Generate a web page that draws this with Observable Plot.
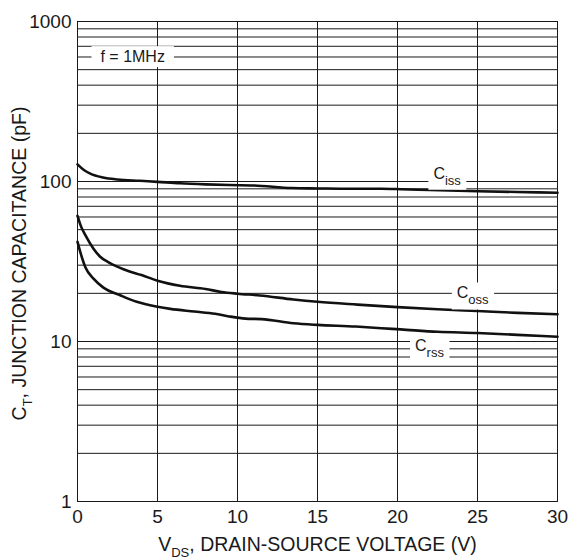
<!DOCTYPE html>
<html><head><meta charset="utf-8">
<script src="https://cdn.jsdelivr.net/npm/d3@7"></script>
<script src="https://cdn.jsdelivr.net/npm/@observablehq/plot@0.6"></script>
<style>
body{margin:0;background:#fff}
#chart svg{display:block}
</style>
</head><body><div id="chart"></div>
<script>
// ---- data (V in volts, C in pF) ----
const cissV = [0, 0.4, 0.8, 1.6, 2.5, 3.9, 5, 6.4, 8, 9.5, 11, 13.4, 15, 17, 19, 20.2, 22, 25, 27.5, 30];
const cissC = [128, 118, 112, 106, 103, 101, 99.5, 97.5, 96, 95, 94.5, 91, 90.5, 90, 90, 89.5, 88.5, 87, 86, 85];

const cossV = [0, 0.2, 0.5, 1, 1.4, 2, 3, 4, 5, 6.4, 8, 9, 10, 11.4, 13.5, 15, 17.5, 20, 22.5, 25, 27.5, 30];
const cossC = [61, 53, 46, 38, 34, 31, 28, 26, 24, 22.3, 21.3, 20.4, 19.9, 19.4, 18.3, 17.7, 17, 16.4, 15.9, 15.5, 15.1, 14.8];

const crssV = [0, 0.2, 0.5, 1, 1.6, 2.7, 3.7, 5, 5.8, 7.3, 8.6, 9.4, 10.5, 11.5, 13.5, 15, 17.4, 19, 20.2, 22.5, 25, 27.5, 30];
const crssC = [42, 35.5, 29, 24.7, 21.8, 19.4, 17.7, 16.5, 16, 15.4, 14.9, 14.4, 13.9, 13.8, 13, 12.7, 12.4, 12.1, 11.9, 11.5, 11.3, 11, 10.7];

const xTicks = [0, 5, 10, 15, 20, 25, 30];
const yTicks = [1, 10, 100, 1000];
const yGrid = [2, 3, 4, 5, 6, 7, 8, 9, 10, 20, 30, 40, 50, 60, 70, 80, 90, 100, 200, 300, 400, 500, 600, 700, 800, 900];

// curve labels: text ("|" separates normal / subscript parts), position in data units
const labelText = ["f = 1MHz", "C|iss", "C|oss", "C|rss"];
const labelV = [3.45, 23.1, 24.7, 22.0];
const labelC = [600, 112, 20, 9.4];

const xTitle = "V|DS|, DRAIN-SOURCE VOLTAGE (V)";
const yTitle = "C|T|, JUNCTION CAPACITANCE (pF)";

// ---- build tables ----
const series = [];
cissV.forEach((v, i) => series.push({name: "Ciss", v, c: cissC[i]}));
cossV.forEach((v, i) => series.push({name: "Coss", v, c: cossC[i]}));
crssV.forEach((v, i) => series.push({name: "Crss", v, c: crssC[i]}));
const labels = labelText.map((t, i) => ({t, v: labelV[i], c: labelC[i]}));

const ink = "#1a1a1a";
const chart = Plot.plot({
  width: 568, height: 559,
  marginLeft: 77, marginRight: 11, marginTop: 21, marginBottom: 58,
  style: {fontFamily: "'Liberation Sans', Arial, sans-serif", fontSize: "19px", color: ink, background: "white"},
  x: {domain: [0, 30], ticks: xTicks, tickSize: 0, tickPadding: 8, label: null},
  y: {type: "log", domain: [1, 1000], ticks: yTicks, tickSize: 0, tickPadding: 6, tickFormat: d => String(d), label: null},
  marks: [
    Plot.ruleY(yGrid, {stroke: ink, strokeWidth: 1}),
    Plot.ruleX(xTicks, {stroke: ink, strokeWidth: 1}),
    Plot.frame({stroke: ink, strokeWidth: 1}),
    Plot.line(series, {x: "v", y: "c", z: "name", stroke: "#111", strokeWidth: 2.6, curve: "monotone-x"}),
    Plot.text(labels, {x: "v", y: "c", text: "t", fontSize: 16, fill: ink, textAnchor: "middle"}),
    Plot.text([xTitle], {frameAnchor: "bottom", dy: 49, text: d => d, fontSize: 19.5, fill: ink, textAnchor: "middle"}),
    Plot.text([yTitle], {frameAnchor: "left", dx: -58, dy: 2, rotate: -90, text: d => d, fontSize: 19.5, fill: ink, textAnchor: "middle"})
  ]
});
document.getElementById("chart").appendChild(chart);

// ---- subscripts and white label boxes ----
const svg = d3.select(chart);
const boxed = new Set(labelText);
svg.selectAll("text").each(function () {
  const s = this.textContent;
  if (!s.includes("|") && !boxed.has(s)) return;
  const el = d3.select(this);
  const fs = parseFloat(el.attr("font-size")) || 18;
  const parts = s.split("|");
  if (parts.length > 1) {
    el.text(null);
    const shift = Math.round(fs * 0.32);
    parts.forEach((p, i) => {
      if (!p) return;
      const ts = el.append("tspan").text(p);
      if (i % 2 === 1) ts.attr("font-size", Math.round(fs * 0.72)).attr("dy", shift);
      else if (i > 0) ts.attr("dy", -shift);
    });
  }
  if (boxed.has(s)) {
    const b = this.getBBox();
    const px = s.startsWith("f") ? 9 : 5, py = 2;
    d3.select(this.parentNode).insert("rect", () => this)
      .attr("x", b.x - px).attr("y", b.y - py)
      .attr("width", b.width + 2 * px).attr("height", b.height + 2 * py)
      .attr("fill", "white")
      .attr("transform", this.getAttribute("transform"));
  }
});
</script>
</body></html>
